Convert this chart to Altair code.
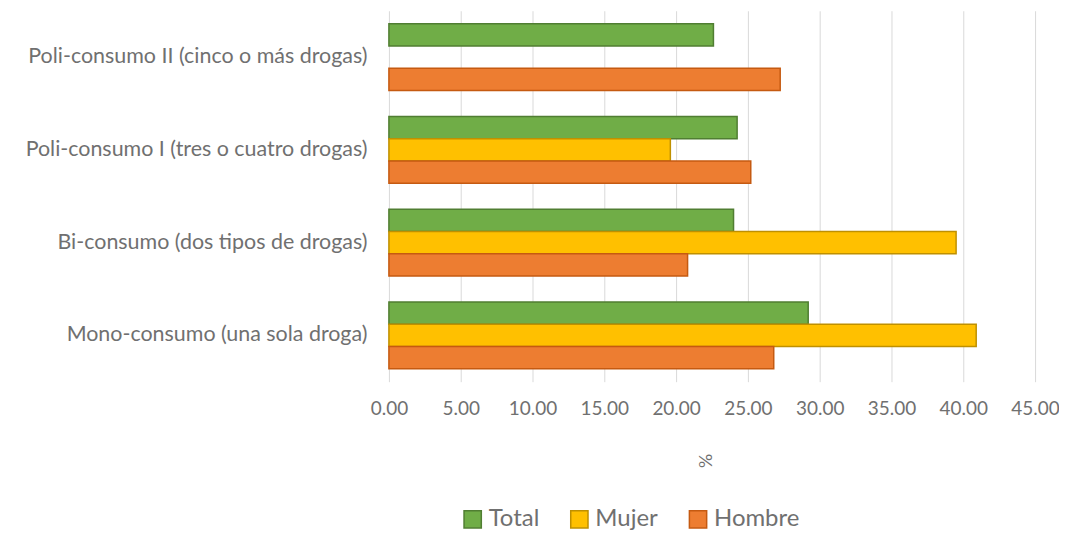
import altair as alt
import pandas as pd

categories = [
    "Poli-consumo II (cinco o más drogas)",
    "Poli-consumo I (tres o cuatro drogas)",
    "Bi-consumo (dos tipos de drogas)",
    "Mono-consumo (una sola droga)",
]
series = ["Total", "Mujer", "Hombre"]
total = [22.6, 24.25, 24.0, 29.2]
mujer = [None, 19.6, 39.5, 40.9]
hombre = [27.25, 25.2, 20.8, 26.8]
x_ticks = [0, 5, 10, 15, 20, 25, 30, 35, 40, 45]

fills = ["#70ad47", "#ffc000", "#ed7d31"]
strokes = ["#507e32", "#bf9000", "#c55a11"]

rows = []
for i, c in enumerate(categories):
    for s, vals in zip(series, [total, mujer, hombre]):
        rows.append({"cat": c, "serie": s, "val": vals[i]})
df = pd.DataFrame(rows)

font = "Lato"
grey = "#707070"

chart = alt.Chart(df).mark_bar(strokeWidth=1.5).encode(
    y=alt.Y("cat:N", sort=categories, title=None,
            scale=alt.Scale(paddingInner=0.28, paddingOuter=0.14),
            axis=alt.Axis(labelFont=font, labelFontSize=21.5, labelColor=grey,
                          ticks=False, domain=False, labelPadding=22,
                          labelLimit=400)),
    yOffset=alt.YOffset("serie:N", sort=series, scale=alt.Scale(domain=series)),
    x=alt.X("val:Q", title="%",
            scale=alt.Scale(domain=[0, 45], nice=False),
            axis=alt.Axis(values=x_ticks, format=".2f", labelFont=font,
                          labelFontSize=19, labelColor=grey, ticks=False,
                          domain=False, gridColor="#d9d9d9", labelPadding=18,
                          labelFlush=False,
                          titleFont=font, titleFontSize=18, titleColor=grey,
                          titleFontWeight="normal", titleAngle=90,
                          titlePadding=42)),
    color=alt.Color("serie:N", sort=series,
                    scale=alt.Scale(domain=series, range=fills),
                    legend=alt.Legend(title=None, orient="none", direction="horizontal",
                                      legendX=72, legendY=498, symbolType="square",
                                      symbolSize=300, symbolStrokeWidth=1.5,
                                      labelFont=font, labelFontSize=24,
                                      labelColor=grey, columnPadding=28,
                                      labelOffset=4)),
    stroke=alt.Stroke("serie:N", sort=series,
                      scale=alt.Scale(domain=series, range=strokes),
                      legend=None),
).properties(
    width=648, height=372,
    autosize=alt.AutoSizeParams(type="none"),
    padding={"left": 382, "top": 2, "right": 24, "bottom": 150},
).configure_view(stroke=None)

chart.save("out.html", embed_options={"renderer": "svg", "actions": False})
